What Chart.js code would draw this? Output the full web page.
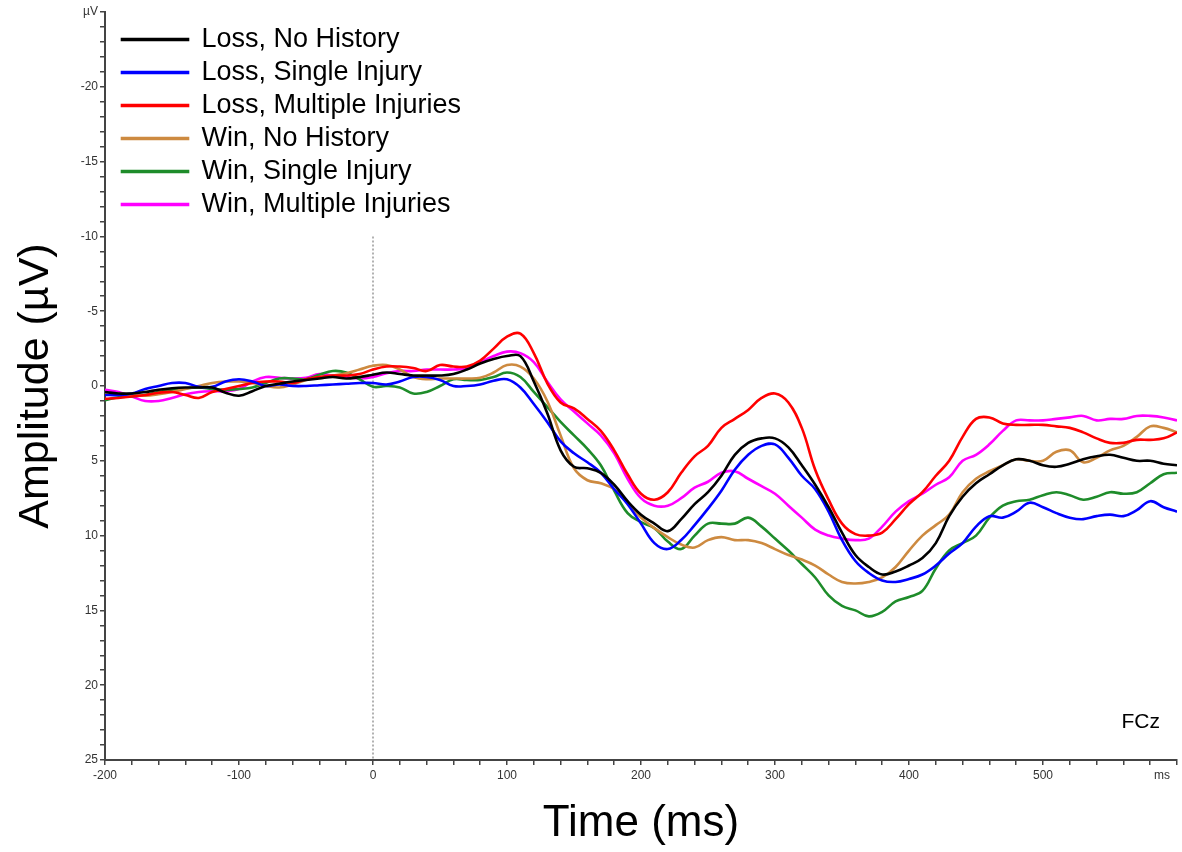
<!DOCTYPE html>
<html>
<head>
<meta charset="utf-8">
<script src="https://cdn.jsdelivr.net/npm/chart.js@4.4.0/dist/chart.umd.min.js"></script>
<style>
    body { margin: 0; background: #fff; }
    #wrap { width: 1182px; height: 852px; }
</style>
</head>
<body>
<div id="wrap"><canvas id="erp"></canvas></div>
<script>
// time points (ms), one every 10 ms
const times = [];
for (let t = -200; t <= 600; t += 10) {
    times.push(t);
}

const seriesNames = [
    'Loss, No History',
    'Loss, Single Injury',
    'Loss, Multiple Injuries',
    'Win, No History',
    'Win, Single Injury',
    'Win, Multiple Injuries'
];
const seriesColors = ['#000000', '#0000ff', '#ff0000', '#cd8a40', '#1e8c2a', '#ff00ff'];

// amplitudes in µV (negative up)
const lossNoHistory = [0.4, 0.5, 0.5, 0.4, 0.25, 0.15, 0.1, 0.1, 0.1, 0.45, 0.65, 0.35, 0.0, -0.15, -0.3, -0.4, -0.5, -0.6, -0.5, -0.6,
    -0.75, -0.9, -0.8, -0.7, -0.7, -0.7, -0.8, -1.1, -1.5, -1.8, -2.0, -2.0, -0.3, 1.8, 4.3, 5.4, 5.5, 5.8, 6.6, 7.7,
    8.6, 9.2, 9.7, 8.9, 7.9, 7.1, 6.0, 4.6, 3.8, 3.5, 3.5, 4.1, 5.3, 6.6, 8.1, 9.8, 11.3, 12.1, 12.6, 12.4,
    12.0, 11.5, 10.5, 8.7, 7.4, 6.5, 5.9, 5.3, 4.9, 5.0, 5.3, 5.4, 5.2, 4.9, 4.7, 4.6, 4.8, 5.0, 5.0, 5.2, 5.3];
const lossSingle = [0.6, 0.6, 0.5, 0.2, 0.0, -0.2, -0.2, 0.05, 0.05, -0.3, -0.45, -0.3, 0.0, -0.1, 0.0, 0.0, -0.05, -0.1, -0.15, -0.2,
    -0.2, -0.1, -0.3, -0.6, -0.6, -0.4, 0.0, 0.0, -0.1, -0.35, -0.45, 0.1, 1.2, 2.4, 3.7, 4.5, 5.1, 5.8, 6.9, 7.9,
    9.2, 10.5, 10.9, 10.3, 9.3, 8.2, 7.0, 5.6, 4.6, 4.0, 3.9, 4.8, 6.0, 6.9, 8.4, 10.3, 11.7, 12.5, 13.0, 13.1,
    12.9, 12.6, 12.0, 11.2, 10.5, 9.4, 8.7, 8.8, 8.4, 7.8, 8.1, 8.5, 8.8, 8.9, 8.7, 8.6, 8.7, 8.3, 7.7, 8.1, 8.4];
const lossMultiple = [0.85, 0.8, 0.7, 0.6, 0.45, 0.4, 0.6, 0.8, 0.4, 0.2, 0.0, -0.2, -0.3, -0.3, -0.2, -0.45, -0.6, -0.7, -0.7, -0.8,
    -1.1, -1.3, -1.3, -1.2, -1.0, -1.4, -1.3, -1.3, -1.7, -2.5, -3.3, -3.5, -2.2, -0.2, 1.1, 1.5, 2.2, 3.0, 4.3, 5.9,
    7.2, 7.6, 7.1, 5.8, 4.7, 4.0, 2.8, 2.2, 1.6, 0.8, 0.5, 1.1, 2.8, 5.6, 7.6, 9.2, 9.9, 10.0, 9.8, 8.9,
    7.9, 7.1, 6.0, 5.0, 3.4, 2.2, 2.1, 2.5, 2.6, 2.6, 2.6, 2.7, 2.8, 3.1, 3.5, 3.8, 3.8, 3.6, 3.6, 3.5, 3.1];
const winNoHistory = [0.5, 0.5, 0.6, 0.65, 0.55, 0.4, 0.2, 0.0, -0.2, -0.3, -0.3, -0.2, 0.0, 0.1, -0.1, -0.4, -0.6, -0.7, -0.85, -1.1,
    -1.35, -1.4, -1.1, -0.6, -0.45, -0.5, -0.5, -0.5, -0.55, -0.9, -1.4, -1.3, -0.5, 1.0, 3.3, 5.5, 6.3, 6.5, 6.9, 7.8,
    8.8, 9.5, 10.1, 10.6, 10.8, 10.3, 10.1, 10.3, 10.3, 10.5, 10.9, 11.3, 11.6, 12.0, 12.6, 13.1, 13.2, 13.1, 12.8, 12.1,
    11.0, 10.0, 9.3, 8.6, 7.1, 6.2, 5.7, 5.3, 4.9, 5.0, 5.0, 4.4, 4.3, 5.1, 4.8, 4.3, 4.0, 3.4, 2.7, 2.8, 3.1];
const winSingle = [0.95, 0.75, 0.7, 0.6, 0.4, 0.25, 0.15, 0.1, 0.2, 0.25, 0.2, 0.1, -0.2, -0.5, -0.5, -0.45, -0.75, -1.0, -0.9, -0.45,
    0.05, 0.0, 0.1, 0.5, 0.4, 0.0, -0.45, -0.4, -0.4, -0.6, -0.9, -0.6, 0.4, 1.4, 2.4, 3.3, 4.2, 5.3, 7.0, 8.5,
    9.1, 9.5, 10.4, 10.9, 10.0, 9.2, 9.2, 9.2, 8.8, 9.4, 10.2, 11.0, 11.9, 12.8, 14.0, 14.7, 15.0, 15.4, 15.1, 14.4,
    14.1, 13.7, 12.2, 11.0, 10.5, 10.0, 8.8, 8.0, 7.7, 7.6, 7.3, 7.1, 7.3, 7.6, 7.4, 7.1, 7.2, 7.1, 6.5, 5.9, 5.8];
const winMultiple = [0.25, 0.4, 0.7, 1.0, 1.0, 0.8, 0.55, 0.4, 0.35, 0.35, 0.2, -0.3, -0.6, -0.55, -0.5, -0.55, -0.8, -0.7, -0.6, -0.5,
    -0.6, -0.85, -1.0, -1.0, -1.1, -1.1, -1.1, -1.2, -1.6, -2.0, -2.3, -2.2, -1.6, -0.3, 0.9, 1.7, 2.5, 3.3, 4.5, 6.2,
    7.5, 8.0, 8.0, 7.5, 6.8, 6.4, 5.8, 5.7, 6.2, 6.7, 7.2, 8.0, 8.8, 9.6, 10.0, 10.2, 10.3, 10.2, 9.4, 8.4,
    7.7, 7.2, 6.6, 6.1, 5.0, 4.6, 3.9, 3.0, 2.3, 2.3, 2.3, 2.2, 2.1, 2.0, 2.3, 2.2, 2.2, 2.0, 2.0, 2.1, 2.3];

const allSeries = [lossNoHistory, lossSingle, lossMultiple, winNoHistory, winSingle, winMultiple];

// dotted stimulus-onset line
const onsetX = [0, 0];
const onsetY = [-10, 25];

Chart.defaults.font.family = '"Liberation Sans", Arial, sans-serif';

function toPoints(xs, ys) {
    let pts = [];
    xs.forEach((x, i) => {
        pts.push({ x: x, y: ys[i] });
    });
    return pts;
}

let datasets = [];
allSeries.forEach((vals, i) => {
    datasets.push({
        label: seriesNames[i],
        data: toPoints(times, vals),
        borderColor: seriesColors[i],
        backgroundColor: seriesColors[i],
        borderWidth: 2.6,
        pointRadius: 0,
        tension: 0.4,
        fill: false
    });
});
datasets.push({
    label: 'onset',
    data: toPoints(onsetX, onsetY),
    borderColor: '#999999',
    borderWidth: 1.5,
    borderDash: [2, 2],
    pointRadius: 0,
    fill: false
});

// nudge the in-plot legend a little right and down
const legendNudge = {
    id: 'legendNudge',
    afterLayout(chart) {
        chart.legend.left += 11;
        chart.legend.top += 20;
    }
};

// FCz label and the "ms" unit at the end of the time axis
const extraText = {
    id: 'extraText',
    afterDraw(chart) {
        let ctx = chart.ctx;
        let area = chart.chartArea;
        ctx.save();
        ctx.fillStyle = '#000';
        ctx.font = '21px "Liberation Sans"';
        ctx.textAlign = 'right';
        ctx.textBaseline = 'alphabetic';
        ctx.fillText('FCz', area.right - 17, area.bottom - 32);
        ctx.fillStyle = '#333';
        ctx.font = '12px "Liberation Sans"';
        ctx.textAlign = 'center';
        ctx.textBaseline = 'middle';
        ctx.fillText('ms', area.right - 15, chart.scales.x.top + 16);
        ctx.restore();
    }
};

const config = {
    type: 'line',
    data: { datasets: datasets },
    plugins: [legendNudge, extraText],
    options: {
        responsive: true,
        maintainAspectRatio: false,
        animation: false,
        layout: { padding: { top: 12, right: 5, left: 0, bottom: 0 } },
        plugins: {
            tooltip: { enabled: false },
            legend: {
                position: 'chartArea',
                align: 'start',
                labels: {
                    filter: item => item.text !== 'onset',
                    boxWidth: 66,
                    boxHeight: 1,
                    padding: 6,
                    color: '#000',
                    font: { size: 27 }
                }
            }
        },
        scales: {
            x: {
                type: 'linear',
                min: -200,
                max: 600,
                afterFit: scale => { scale.height = 92; },
                border: { color: '#444', width: 2 },
                grid: { drawOnChartArea: false, tickLength: 5, color: '#444', lineWidth: 1.5 },
                ticks: {
                    stepSize: 20,
                    autoSkip: false,
                    maxRotation: 0,
                    padding: 3,
                    color: '#333',
                    font: { size: 12 },
                    callback: v => (v % 100 === 0 && v < 600) ? v : ''
                },
                title: {
                    display: true,
                    text: 'Time (ms)',
                    color: '#000',
                    font: { size: 44 },
                    padding: { top: 0, bottom: 2 }
                }
            },
            y: {
                reverse: true,
                min: -25,
                max: 25,
                afterFit: scale => { scale.width = 105; },
                border: { color: '#444', width: 2 },
                grid: { drawOnChartArea: false, tickLength: 5, color: '#444', lineWidth: 1.5 },
                ticks: {
                    stepSize: 1,
                    autoSkip: false,
                    padding: 2,
                    color: '#333',
                    font: { size: 12 },
                    callback: v => v === -25 ? 'µV' : (v % 5 === 0 ? v : '')
                },
                title: {
                    display: true,
                    text: 'Amplitude (µV)',
                    color: '#000',
                    font: { size: 43 },
                    padding: { top: 10, bottom: 0 }
                }
            }
        }
    }
};

const erpChart = new Chart(document.getElementById('erp').getContext('2d'), config);
</script>
</body>
</html>
